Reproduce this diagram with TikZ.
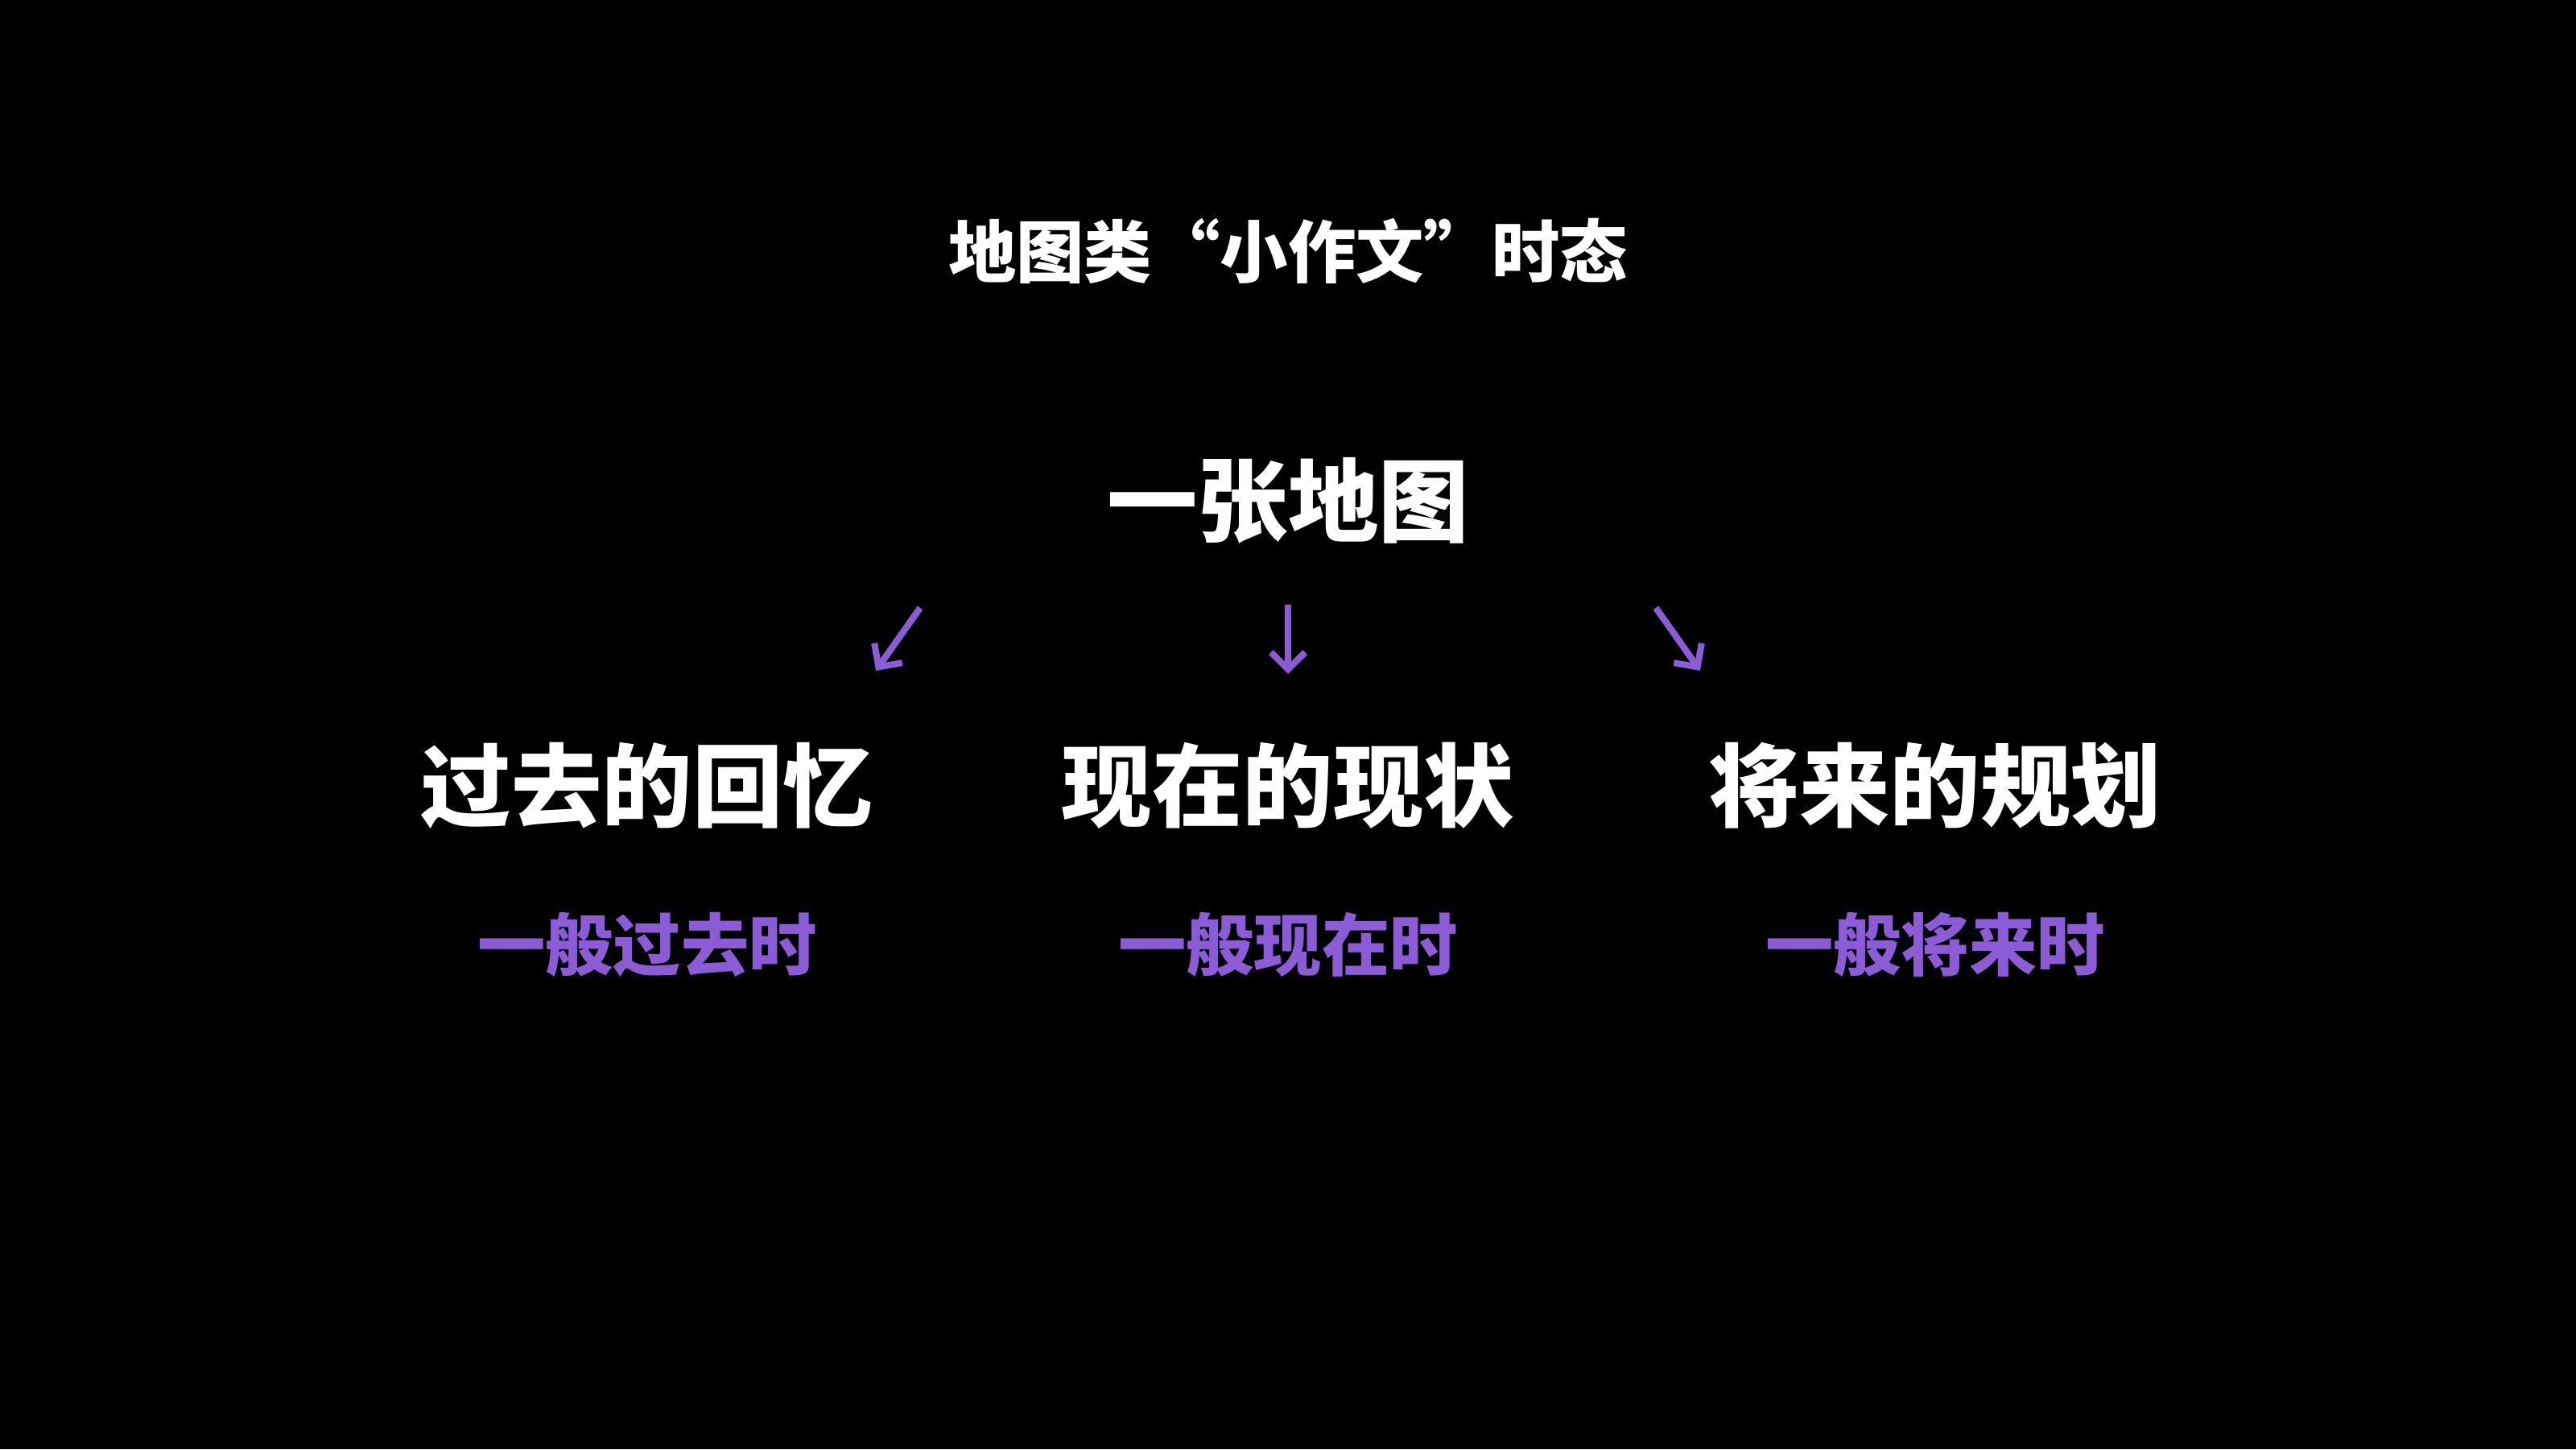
\documentclass[tikz,border=0pt]{standalone}
\usepackage{fontspec}
\setmainfont{Noto Sans CJK SC}
\usetikzlibrary{arrows.meta}
\definecolor{tensepurple}{HTML}{8B5CD6}
\begin{document}
\begin{tikzpicture}[
  topic/.style={text=white,font=\bfseries\fontsize{32}{38}\selectfont},
  tense/.style={text=tensepurple,font=\bfseries\fontsize{24}{29}\selectfont},
  pointer/.style={draw=tensepurple,line width=2.3pt,-{Straight Barb[length=6pt,width=12pt]}}]
      \fill[black] (0,0) rectangle (32,18);

      \node[text=white,font=\bfseries\fontsize{24}{29}\selectfont] (title) at (16,14.88) {地图类“小作文”时态};
      \node[topic] (map) at (16,11.78) {一张地图};

      \node[topic] (past) at (8.04,8.24) {过去的回忆};
      \node[topic] (now) at (16,8.24) {现在的现状};
      \node[topic] (future) at (24.04,8.24) {将来的规划};

      \node[tense] (pastt) at (8.04,6.27) {一般过去时};
      \node[tense] (nowt) at (16,6.27) {一般现在时};
      \node[tense] (futuret) at (24.04,6.27) {一般将来时};

      \coordinate (l1) at (11.43,10.45); \coordinate (l2) at (10.88,9.67);
      \coordinate (m1) at (16,10.49);    \coordinate (m2) at (16,9.63);
      \coordinate (r1) at (20.57,10.45); \coordinate (r2) at (21.12,9.67);

      \draw[pointer] (l1) -- (l2);
      \draw[pointer] (m1) -- (m2);
      \draw[pointer] (r1) -- (r2);
\end{tikzpicture}
\end{document}
